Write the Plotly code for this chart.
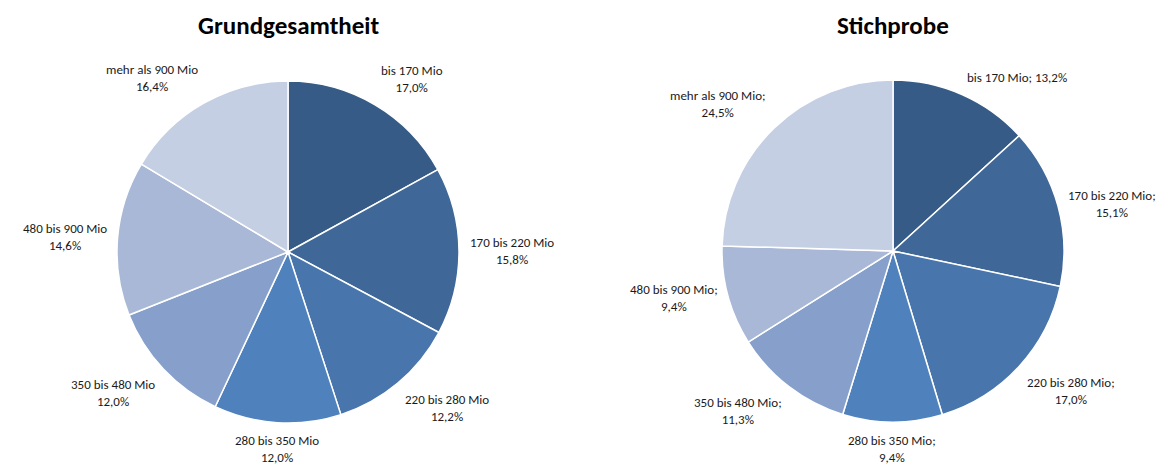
import math
import plotly.graph_objects as go

categories = ["bis 170 Mio", "170 bis 220 Mio", "220 bis 280 Mio", "280 bis 350 Mio",
              "350 bis 480 Mio", "480 bis 900 Mio", "mehr als 900 Mio"]
grund_values = [17.0, 15.8, 12.2, 12.0, 12.0, 14.6, 16.4]
stich_values = [13.2, 15.1, 17.0, 9.4, 11.3, 9.4, 24.5]

colors = ["#365B86", "#3F6899", "#4775AC", "#4F81BD", "#87A0CB", "#A9B8D7", "#C5CFE3"]

# page body has an 8px margin, so the figure is drawn from (8, 8)
OFF = 8
W, H = 1174 - OFF, 465 - OFF
FONT = "Carlito, Calibri, Roboto, sans-serif"

fig = go.Figure()
panels = [
    ("Grundgesamtheit", grund_values, 288, 252, 171, "<br>"),
    ("Stichprobe", stich_values, 893, 251, 171, ";<br>"),
]

annotations = []
for i, (title, values, cx, cy, r, sep) in enumerate(panels):
    cx, cy = cx - OFF, cy - OFF
    dom_x = [(cx - r) / W, (cx + r) / W]
    dom_y = [(H - cy - r) / H, (H - cy + r) / H]
    fig.add_trace(go.Pie(
        labels=categories, values=values, sort=False, direction="clockwise",
        marker=dict(colors=colors, line=dict(color="white", width=1.5)),
        textinfo="none", hoverinfo="label+percent", showlegend=False,
        domain=dict(x=dom_x, y=dom_y), name=title,
    ))
    annotations.append(dict(
        text="<b>" + title + "</b>", x=cx / W, y=1,
        xref="paper", yref="paper", showarrow=False,
        font=dict(family=FONT, size=25, color="black"),
        xanchor="center", yanchor="top",
    ))
    total = sum(values)
    cum = 0.0
    for j, (cat, v) in enumerate(zip(categories, values)):
        mid = (cum + v / 2) / total * 2 * math.pi
        cum += v
        s, c = math.sin(mid), math.cos(mid)
        d = r * 1.05
        px, py = cx + s * d, cy - c * d
        xa = "left" if s > 0.3 else ("right" if s < -0.3 else "center")
        ya = "bottom" if c > 0.3 else ("top" if c < -0.3 else "middle")
        pct = ("%.1f%%" % v).replace(".", ",")
        if i == 1 and j == 0:
            txt = cat + "; " + pct
        else:
            txt = cat + sep + pct
        annotations.append(dict(
            text=txt, x=px / W, y=1 - py / H, xref="paper", yref="paper",
            showarrow=False, font=dict(family=FONT, size=13, color="#1a1a1a"),
            xanchor=xa, yanchor=ya, align="center",
        ))

fig.update_layout(
    width=W, height=H, margin=dict(l=0, r=0, t=0, b=0),
    paper_bgcolor="white", plot_bgcolor="white",
    annotations=annotations,
)

fig.write_html("out.html")
